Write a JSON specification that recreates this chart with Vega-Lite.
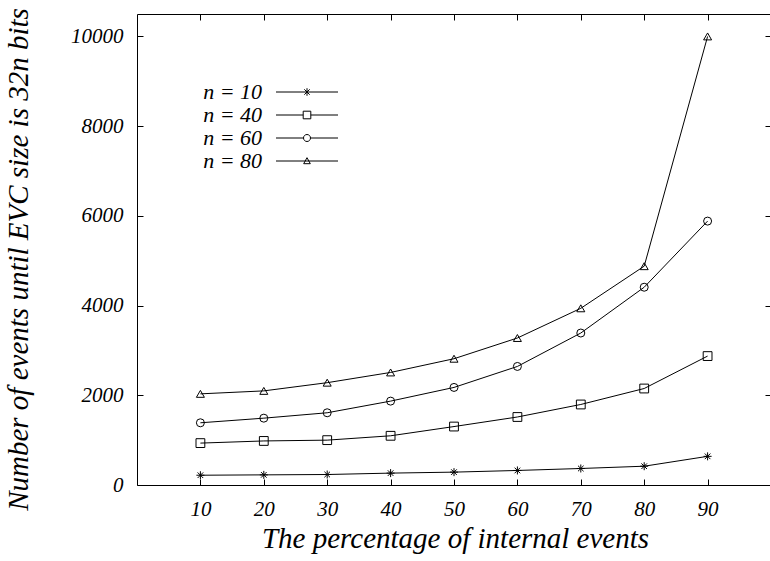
{
  "$schema": "https://vega.github.io/schema/vega-lite/v6.json",
  "autosize": {"type": "none"},
  "padding": {"left": 137, "top": 14, "right": 0, "bottom": 76},
  "width": 634,
  "height": 471,
  "background": "white",
  "config": {
    "view": {"stroke": "black", "strokeWidth": 1},
    "font": "Liberation Serif",
    "axis": {
      "grid": false,
      "domain": false,
      "ticks": true,
      "tickSize": -6,
      "tickColor": "black",
      "tickWidth": 1,
      "labelFont": "Liberation Serif",
      "labelFontStyle": "italic",
      "labelFontSize": 21,
      "labelColor": "black",
      "titleFont": "Liberation Serif",
      "titleFontStyle": "italic",
      "titleFontWeight": "normal",
      "titleFontSize": 29,
      "titleColor": "black"
    }
  },
  "data": {
    "values": [
      {"pct": 10, "events": 218, "series": "n = 10"},
      {"pct": 20, "events": 226, "series": "n = 10"},
      {"pct": 30, "events": 234, "series": "n = 10"},
      {"pct": 40, "events": 265, "series": "n = 10"},
      {"pct": 50, "events": 287, "series": "n = 10"},
      {"pct": 60, "events": 324, "series": "n = 10"},
      {"pct": 70, "events": 368, "series": "n = 10"},
      {"pct": 80, "events": 419, "series": "n = 10"},
      {"pct": 90, "events": 639, "series": "n = 10"},
      {"pct": 10, "events": 934, "series": "n = 40"},
      {"pct": 20, "events": 982, "series": "n = 40"},
      {"pct": 30, "events": 1000, "series": "n = 40"},
      {"pct": 40, "events": 1097, "series": "n = 40"},
      {"pct": 50, "events": 1303, "series": "n = 40"},
      {"pct": 60, "events": 1516, "series": "n = 40"},
      {"pct": 70, "events": 1795, "series": "n = 40"},
      {"pct": 80, "events": 2151, "series": "n = 40"},
      {"pct": 90, "events": 2874, "series": "n = 40"},
      {"pct": 10, "events": 1387, "series": "n = 60"},
      {"pct": 20, "events": 1490, "series": "n = 60"},
      {"pct": 30, "events": 1610, "series": "n = 60"},
      {"pct": 40, "events": 1870, "series": "n = 60"},
      {"pct": 50, "events": 2175, "series": "n = 60"},
      {"pct": 60, "events": 2643, "series": "n = 60"},
      {"pct": 70, "events": 3388, "series": "n = 60"},
      {"pct": 80, "events": 4409, "series": "n = 60"},
      {"pct": 90, "events": 5883, "series": "n = 60"},
      {"pct": 10, "events": 2032, "series": "n = 80"},
      {"pct": 20, "events": 2098, "series": "n = 80"},
      {"pct": 30, "events": 2281, "series": "n = 80"},
      {"pct": 40, "events": 2509, "series": "n = 80"},
      {"pct": 50, "events": 2815, "series": "n = 80"},
      {"pct": 60, "events": 3277, "series": "n = 80"},
      {"pct": 70, "events": 3939, "series": "n = 80"},
      {"pct": 80, "events": 4878, "series": "n = 80"},
      {"pct": 90, "events": 10000, "series": "n = 80"}
    ]
  },
  "layer": [
    {
      "mark": {"type": "line", "color": "black", "strokeWidth": 1},
      "encoding": {
        "x": {
          "field": "pct", "type": "quantitative",
          "scale": {"domain": [0, 100], "nice": false, "zero": false},
          "axis": {
            "orient": "bottom",
            "values": [10, 20, 30, 40, 50, 60, 70, 80, 90],
            "labelPadding": 19,
            "title": "The percentage of internal events",
            "titleX": 318,
            "titleY": 62,
            "titleBaseline": "alphabetic",
            "titleAnchor": "middle"
          }
        },
        "y": {
          "field": "events", "type": "quantitative",
          "scale": {"domain": [0, 10500], "nice": false},
          "axis": {
            "orient": "left",
            "values": [0, 2000, 4000, 6000, 8000, 10000],
            "format": "d",
            "labelPadding": 20,
            "title": "Number of events until EVC size is 32n bits",
            "titleX": -110,
            "titleY": 245,
            "titleAngle": 270,
            "titleBaseline": "alphabetic",
            "titleAnchor": "middle"
          }
        },
        "detail": {"field": "series", "type": "nominal"}
      }
    },
    {
      "mark": {"type": "point", "filled": false, "color": "black", "strokeWidth": 1, "size": 64, "opacity": 1},
      "encoding": {
        "x": {
          "field": "pct", "type": "quantitative",
          "axis": {"orient": "top", "values": [10, 20, 30, 40, 50, 60, 70, 80, 90], "labels": false, "title": null}
        },
        "y": {
          "field": "events", "type": "quantitative",
          "axis": {"orient": "right", "values": [0, 2000, 4000, 6000, 8000, 10000], "labels": false, "title": null}
        },
        "shape": {
          "field": "series", "type": "nominal",
          "scale": {
            "domain": ["n = 10", "n = 40", "n = 60", "n = 80"],
            "range": [
              "M-1,0H1M0,-1V1M-0.7,-0.7L0.7,0.7M-0.7,0.7L0.7,-0.7",
              "M-1.1,-1.1H1.1V1.1H-1.1Z",
              "circle",
              "triangle-up"
            ]
          },
          "legend": null
        }
      }
    },
    {
      "mark": {"type": "point", "filled": false, "color": "black", "strokeWidth": 1, "size": 400, "opacity": 0},
      "encoding": {
        "x": {"field": "pct", "type": "quantitative", "axis": null},
        "y": {"field": "events", "type": "quantitative", "axis": null},
        "shape": {
          "field": "series", "type": "nominal",
          "scale": {
            "domain": ["n = 10", "n = 40", "n = 60", "n = 80"],
            "range": [
              "M-3.1,0H3.1M0,-0.38V0.38M-0.27,-0.27L0.27,0.27M-0.27,0.27L0.27,-0.27",
              "M-3.1,0H-0.38M0.38,0H3.1M-0.38,-0.38H0.38V0.38H-0.38Z",
              "M-3.1,0H-0.35M0.35,0H3.1M-0.35,0A0.35,0.35 0 1,1 0.35,0A0.35,0.35 0 1,1 -0.35,0",
              "M-3.1,0H3.1M0,-0.33L0.33,0.27L-0.33,0.27Z"
            ]
          },
          "legend": {
            "title": null,
            "orient": "none",
            "legendX": 159,
            "legendY": 67,
            "padding": 0,
            "symbolSize": 400,
            "symbolOpacity": 1,
            "symbolStrokeWidth": 1,
            "symbolStrokeColor": "black",
            "symbolFillColor": "transparent",
            "rowPadding": 1,
            "labelFont": "Liberation Serif",
            "labelFontStyle": "italic",
            "labelFontSize": 22,
            "labelColor": "black",
            "labelAlign": "right",
            "labelOffset": -56
          }
        }
      }
    }
  ],
  "resolve": {
    "axis": {"x": "independent", "y": "independent"},
    "scale": {"shape": "independent"}
  }
}
